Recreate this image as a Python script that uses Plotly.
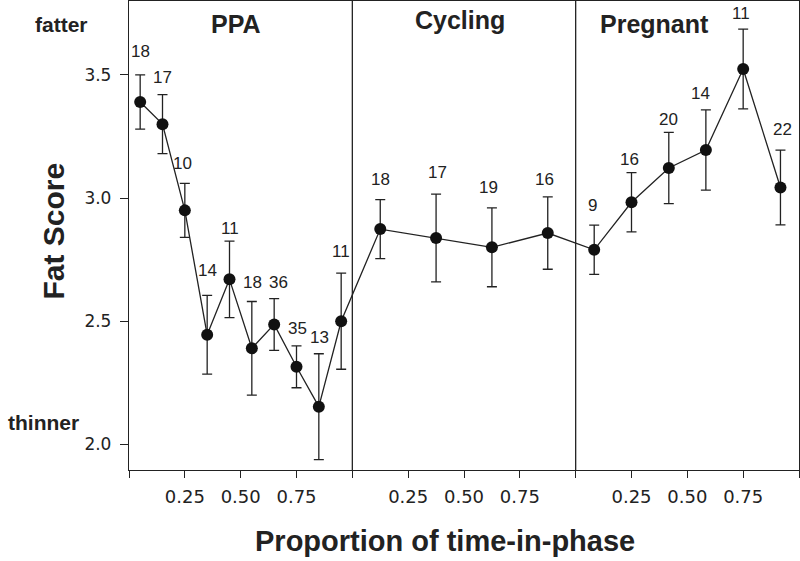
import plotly.graph_objects as go

# ---- data ----
phases = ["PPA", "Cycling", "Pregnant"]

ppa_frac = [0.05, 0.15, 0.25, 0.35, 0.45, 0.55, 0.65, 0.75, 0.85, 0.95]
ppa_fat = [3.39, 3.30, 2.95, 2.445, 2.67, 2.39, 2.487, 2.315, 2.153, 2.50]
ppa_se = [0.11, 0.12, 0.11, 0.16, 0.155, 0.19, 0.105, 0.085, 0.215, 0.195]
ppa_n = [18, 17, 10, 14, 11, 18, 36, 35, 13, 11]

cyc_frac = [0.125, 0.375, 0.625, 0.875]
cyc_fat = [2.874, 2.838, 2.80, 2.858]
cyc_se = [0.12, 0.178, 0.16, 0.147]
cyc_n = [18, 17, 19, 16]

preg_frac = [0.083, 0.25, 0.417, 0.583, 0.75, 0.917]
preg_fat = [2.79, 2.983, 3.122, 3.195, 3.524, 3.043]
preg_se = [0.10, 0.12, 0.145, 0.163, 0.162, 0.152]
preg_n = [9, 16, 20, 14, 11, 22]

tick_fracs = [0.25, 0.50, 0.75]
y_ticks = [2.0, 2.5, 3.0, 3.5]

# ---- label offsets (px, style only) ----
label_dy = [23, 17, 20, 25, 13, 19, 16, 17, 16, 22,
            20, 22, 20, 17,
            20, 13, 13, 16, 16, 21]
label_dx = [0, 0, -2, 0, 0, 1, 4, 1, 1, 0,
            0, 1, -3, -3,
            -2, -2, 0, -5, -2, 2]

# ---- combine ----
xs, ys, es, ns = [], [], [], []
for i, (fr, fy, fe, fn) in enumerate([(ppa_frac, ppa_fat, ppa_se, ppa_n),
                                      (cyc_frac, cyc_fat, cyc_se, cyc_n),
                                      (preg_frac, preg_fat, preg_se, preg_n)]):
    xs += [i + f for f in fr]
    ys += fy
    es += fe
    ns += fn

INK = "#222222"
FONT = "Liberation Sans, Arial, sans-serif"
TICKFONT = "DejaVu Sans, sans-serif"

fig = go.Figure()
fig.add_trace(go.Scatter(
    x=xs, y=ys, mode="lines+markers",
    line=dict(color=INK, width=1.3),
    marker=dict(color="#111111", size=12),
    error_y=dict(type="data", array=es, visible=True, color=INK, thickness=1.3, width=5),
    showlegend=False, hoverinfo="x+y",
))

annotations = []
for x, y, e, n, dx, dy in zip(xs, ys, es, ns, label_dx, label_dy):
    annotations.append(dict(x=x, y=y + e, xref="x", yref="y", text=str(n), showarrow=False,
                            xanchor="center", yanchor="middle", xshift=dx, yshift=dy,
                            font=dict(family=FONT, size=17, color=INK)))

phase_pos = [(0.478, 3.705), (1.481, 3.722), (2.354, 3.707)]
for name, (px, py) in zip(phases, phase_pos):
    annotations.append(dict(x=px, y=py, xref="x", yref="y", text="<b>%s</b>" % name, showarrow=False,
                            xanchor="center", yanchor="middle",
                            font=dict(family=FONT, size=25, color=INK)))

annotations += [
    dict(x=-0.143, y=3.705, xref="paper", yref="y", text="<b>fatter</b>", showarrow=False,
         xanchor="left", yanchor="middle", font=dict(family=FONT, size=21, color=INK)),
    dict(x=-0.184, y=2.09, xref="paper", yref="y", text="<b>thinner</b>", showarrow=False,
         xanchor="left", yanchor="middle", font=dict(family=FONT, size=21, color=INK)),
    dict(x=-0.1124, y=0.51, xref="paper", yref="paper", text="<b>Fat Score</b>", showarrow=False,
         textangle=-90, xanchor="center", yanchor="middle",
         font=dict(family=FONT, size=30, color=INK)),
    dict(x=0.4714, y=-0.151, xref="paper", yref="paper", text="<b>Proportion of time-in-phase</b>",
         showarrow=False, xanchor="center", yanchor="middle",
         font=dict(family=FONT, size=29, color=INK)),
]

tickvals, ticktext = [], []
for i in range(len(phases)):
    tickvals.append(i)
    ticktext.append("")
    for f in tick_fracs:
        tickvals.append(i + f)
        ticktext.append("%.2f" % f)
tickvals.append(len(phases))
ticktext.append("")

shapes = [dict(type="line", xref="x", yref="paper", x0=i, x1=i, y0=0, y1=1,
               line=dict(color=INK, width=1.3)) for i in range(1, len(phases))]

fig.update_layout(
    width=800, height=561,
    margin=dict(l=129, r=1, t=1, b=91, autoexpand=False),
    paper_bgcolor="white", plot_bgcolor="white",
    font=dict(family=FONT, color=INK),
    annotations=annotations,
    shapes=shapes,
    xaxis=dict(range=[0, 3], tickmode="array", tickvals=tickvals, ticktext=ticktext,
               ticks="outside", ticklen=7, tickwidth=1.3, tickcolor=INK,
               showline=True, linecolor=INK, linewidth=1.3, mirror=True,
               showgrid=False, zeroline=False, ticklabelstandoff=3,
               tickfont=dict(family=TICKFONT, size=18, color=INK)),
    yaxis=dict(range=[1.896, 3.80], tickmode="array", tickvals=y_ticks, tickformat=".1f",
               ticks="outside", ticklen=8, tickwidth=1.3, tickcolor=INK,
               showline=True, linecolor=INK, linewidth=1.3, mirror=True,
               showgrid=False, zeroline=False, ticklabelstandoff=5,
               tickfont=dict(family=TICKFONT, size=17, color=INK)),
)

fig.write_html("out.html", config={"displayModeBar": False},
               post_script="document.body.style.margin='0px';document.body.style.overflow='hidden';")
